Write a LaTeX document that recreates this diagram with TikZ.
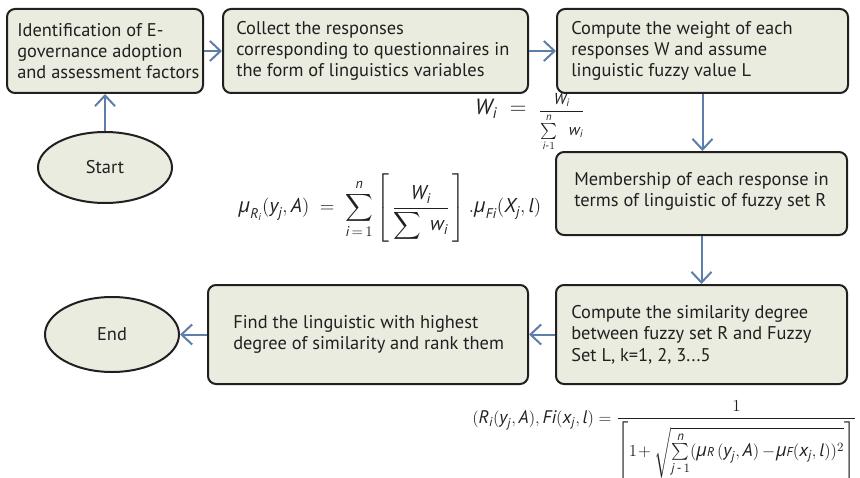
\documentclass[tikz,border=0pt]{standalone}
\usepackage{amsmath}
\usepackage{fontspec}
\setmainfont{PT Sans}
\newfontfamily\grkfont{Open Sans}
\usetikzlibrary{arrows.meta,shapes.geometric}
\definecolor{boxfill}{HTML}{EAECE0}
\definecolor{boxline}{HTML}{231F20}
\definecolor{arrowc}{HTML}{5E7EAA}
\newcommand\mi[1]{\textit{#1}}
\newcommand\mmu{\textit{\grkfont μ}}
\begin{document}
\begin{tikzpicture}[x=0.75pt,y=-0.75pt,
  box/.style={draw=boxline, fill=boxfill, line width=1.5pt, rounded corners=6pt, inner sep=0pt},
  txt/.style={anchor=west, align=left, text=boxline, font=\fontsize{13.8}{16}\selectfont, inner sep=0pt},
  oval/.style={ellipse, draw=boxline, fill=boxfill, line width=1.5pt, inner sep=0pt, text=boxline, font=\fontsize{13.8}{16}\selectfont},
  flow/.style={draw=arrowc, line width=1.5pt, -{Straight Barb[length=8pt,width=15pt]}},
  formula/.style={text=boxline, inner sep=0pt, font=\fontsize{15}{18}\selectfont}]
\useasboundingbox (0,0) rectangle (860,478);

% boxes
\node[box, minimum width=147pt, minimum height=63pt] (b1) at (105,51) {};
\node[txt] (t1) at ([xshift=8.25pt]b1.west) {Identification of E-\\governance adoption\\and assessment factors};
\node[box, minimum width=228.75pt, minimum height=63pt] (b2) at (375.5,51) {};
\node[txt] (t2) at ([xshift=10.5pt]b2.west) {Collect the responses\\corresponding to questionnaires in\\the form of linguistics variables};
\node[box, minimum width=218.25pt, minimum height=63pt] (b3) at (702.5,51) {};
\node[txt] (t3) at ([xshift=11.25pt]b3.west) {Compute the weight of each\\responses W and assume\\linguistic fuzzy value L};
\node[box, minimum width=218.25pt, minimum height=62.25pt] (b4) at (701.5,193.5) {};
\node[txt] (t4) at ([xshift=14.25pt,yshift=1.5pt]b4.west) {Membership of each response in\\terms of linguistic of fuzzy set R};
\node[box, minimum width=218.25pt, minimum height=74.25pt] (b5) at (701.5,334.5) {};
\node[txt] (t5) at ([xshift=12pt]b5.west) {Compute the similarity degree\\between fuzzy set R and Fuzzy\\Set L, k=1, 2, 3...5};
\node[box, minimum width=240pt, minimum height=74.25pt] (b6) at (368,334.5) {};
\node[txt] (t6) at ([xshift=19.5pt]b6.west) {Find the linguistic with highest\\degree of similarity and rank them};

\node[oval, minimum width=100.5pt, minimum height=53.25pt] (st) at (105,167.5) {Start};
\node[oval, minimum width=100.5pt, minimum height=56.25pt] (en) at (112,334.5) {End};

% connectors
\draw[flow] (st) -- (b1);
\draw[flow] (b1) -- (b2);
\draw[flow] (b2) -- (b3);
\draw[flow] (b3.south) -- (b3.south |- b4.north);
\draw[flow] (b4.south) -- (b4.south |- b5.north);
\draw[flow] (b5) -- (b6);
\draw[flow] (b6) -- (en);

% formulas
\node[formula, font=\fontsize{16.5}{18}\selectfont] (f1) at (530,122)
  {$\mi{W}_{\mi{i}} \;=\;$ {\fontsize{12}{14}\selectfont$\dfrac{\mi{W}_{\mi{i}}}{\sum\limits_{\mi{i}\text{-}1}^{\mi{n}}\;\; \mi{w}_{\mi{i}}}$}};

\node[formula] (f2) at (390,208)
  {$\displaystyle \mmu_{\mi{R}_{\mi{i}}}(\mi{y}_{\mi{j}}, \mi{A}) \;=\; \sum_{\mi{i}\,=\,1}^{\mi{n}} \left[\,\frac{\mi{W}_{\mi{i}}}{\displaystyle\sum\nolimits\; \mi{w}_{\mi{i}}}\,\right] .\mmu_{\mi{Fi}}(\mi{X}_{\mi{j}}, \mi{l})$};

\node[formula, anchor=base west, scale=1.05, transform shape, font=\fontsize{13}{16}\selectfont] (f3) at (472,423)
  {$(\mi{R}_{\mi{i}}(\mi{y}_{\mi{j}}, \mi{A}), \mi{Fi}(\mi{x}_{\mi{j}},\mi{l}) = \dfrac{1}{\left[\rule[-19pt]{0pt}{44pt}1\!+ \sqrt{\sum\limits_{\mi{j}\,\text{-}\,1}^{\mi{n}}(\mmu{\scriptstyle\mi{R}}\,(\mi{y}_{\mi{j}}, \mi{A})\mkern3mu{-}\mkern1mu\mmu{\scriptstyle\mi{F}}(\mi{x}_{\mi{j}}, \mi{l}))^2}\right]}$};
\end{tikzpicture}
\end{document}
